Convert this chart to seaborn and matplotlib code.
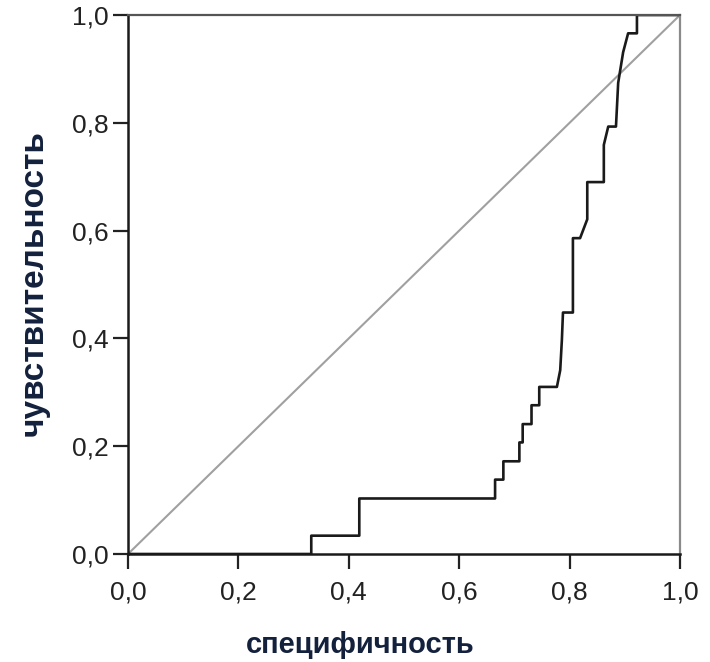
import pandas as pd
import seaborn as sns
import matplotlib.pyplot as plt
from matplotlib.ticker import FuncFormatter

# ROC curve vertices
roc_x = [0.0, 0.332, 0.332, 0.419, 0.419, 0.665, 0.665, 0.680, 0.680, 0.709,
         0.709, 0.715, 0.715, 0.731, 0.731, 0.745, 0.745, 0.777, 0.783, 0.786,
         0.788, 0.806, 0.806, 0.819, 0.832, 0.832, 0.862, 0.862, 0.870, 0.884,
         0.888, 0.897, 0.906, 0.922, 0.922, 1.0]
roc_y = [0.0, 0.0, 0.034, 0.034, 0.103, 0.103, 0.138, 0.138, 0.172, 0.172,
         0.207, 0.207, 0.241, 0.241, 0.276, 0.276, 0.310, 0.310, 0.341, 0.397,
         0.448, 0.448, 0.586, 0.586, 0.621, 0.690, 0.690, 0.759, 0.793, 0.793,
         0.874, 0.931, 0.966, 0.966, 1.0, 1.0]
ref_x = [0.0, 1.0]
ref_y = [0.0, 1.0]
ticks = [0.0, 0.2, 0.4, 0.6, 0.8, 1.0]

sns.set_theme(style='white')
plt.rcParams['font.family'] = ['Liberation Sans', 'DejaVu Sans']

df = pd.DataFrame({'x': roc_x, 'y': roc_y})
ref = pd.DataFrame({'x': ref_x, 'y': ref_y})

fig = plt.figure(figsize=(7.1, 6.62), dpi=100)
ax = fig.add_axes([128 / 710, 108 / 662, 552 / 710, 539 / 662])

sns.lineplot(data=ref, x='x', y='y', color='#a0a0a0', linewidth=1.5, ax=ax)
sns.lineplot(data=df, x='x', y='y', sort=False, estimator=None,
             color='#1a1a1a', linewidth=1.9, ax=ax)

ax.set_xlim(0, 1)
ax.set_ylim(0, 1)
ax.set_xticks(ticks)
ax.set_yticks(ticks)
fmt = FuncFormatter(lambda v, p: f'{v:.1f}'.replace('.', ','))
ax.xaxis.set_major_formatter(fmt)
ax.yaxis.set_major_formatter(fmt)
ax.tick_params(axis='both', direction='out', length=11, width=1.6,
               color='#222222', labelsize=19, labelcolor='#222222',
               bottom=True, left=True)
ax.tick_params(axis='x', pad=8)
ax.tick_params(axis='y', pad=3)

for s in ['left', 'bottom']:
    ax.spines[s].set_color('#1a1a1a')
    ax.spines[s].set_linewidth(1.8)
ax.spines['top'].set_color('#555555')
ax.spines['top'].set_linewidth(1.6)
ax.spines['right'].set_color('#8a8a8a')
ax.spines['right'].set_linewidth(1.6)

ax.set_xlabel('')
ax.set_ylabel('')
fig.text(360 / 710, 1 - 645 / 662, 'специфичность', ha='center', va='center',
         fontsize=21, fontweight='bold', color='#14213d')
fig.text(34 / 710, 1 - 283 / 662, 'чувствительность', ha='center', va='center',
         rotation=90, fontsize=24, fontweight='bold', color='#14213d')

fig.savefig('out.png', dpi=100)
